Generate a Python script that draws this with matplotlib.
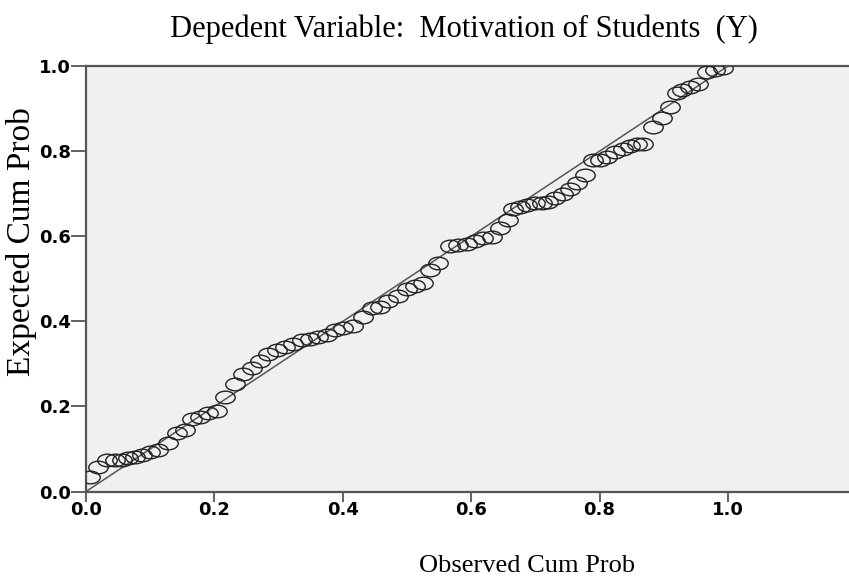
import matplotlib
matplotlib.use("Agg")
import matplotlib.pyplot as plt
from matplotlib.path import Path
from matplotlib.transforms import Affine2D

# observed vs expected cumulative probability
observed = [
    0.006, 0.019, 0.033, 0.045, 0.056, 0.065, 0.076, 0.087, 0.100, 0.112,
    0.128, 0.142, 0.154, 0.165, 0.178, 0.190, 0.204, 0.216, 0.232, 0.245,
    0.259, 0.271, 0.283, 0.297, 0.310, 0.322, 0.336, 0.349, 0.361, 0.375,
    0.388, 0.400, 0.416, 0.431, 0.445, 0.458, 0.470, 0.486, 0.500, 0.512,
    0.525, 0.536, 0.548, 0.567, 0.579, 0.593, 0.606, 0.618, 0.632, 0.645,
    0.657, 0.665, 0.676, 0.687, 0.700, 0.710, 0.720, 0.730, 0.743, 0.754,
    0.765, 0.777, 0.790, 0.800, 0.811, 0.824, 0.836, 0.847, 0.858, 0.868,
    0.883, 0.897, 0.910, 0.920, 0.928, 0.941, 0.953, 0.967, 0.980, 0.992,
]
expected = [
    0.034, 0.058, 0.074, 0.074, 0.075, 0.078, 0.081, 0.086, 0.092, 0.098,
    0.114, 0.137, 0.145, 0.170, 0.175, 0.185, 0.190, 0.222, 0.253, 0.276,
    0.291, 0.307, 0.323, 0.332, 0.339, 0.347, 0.355, 0.358, 0.363, 0.368,
    0.380, 0.384, 0.390, 0.410, 0.432, 0.434, 0.448, 0.460, 0.476, 0.484,
    0.490, 0.520, 0.537, 0.577, 0.579, 0.581, 0.589, 0.595, 0.598, 0.620,
    0.638, 0.664, 0.669, 0.673, 0.678, 0.678, 0.680, 0.690, 0.700, 0.710,
    0.725, 0.744, 0.778, 0.780, 0.787, 0.797, 0.804, 0.811, 0.816, 0.816,
    0.856, 0.877, 0.903, 0.936, 0.943, 0.950, 0.958, 0.985, 0.990, 0.995,
]
ref_line = [0.0, 1.0]
ticks = [0.0, 0.2, 0.4, 0.6, 0.8, 1.0]
tick_labels = ["0.0", "0.2", "0.4", "0.6", "0.8", "1.0"]

SERIF = ["Liberation Serif", "DejaVu Serif"]
EDGE = "#555555"

# wide, flat ellipse like the SPSS markers
ellipse = Path.unit_circle().transformed(Affine2D().scale(1.0, 0.65))

fig = plt.figure(figsize=(8.49, 5.79), dpi=100)
ax = fig.add_axes([0.1013, 0.1511, 0.8987, 0.7349])
ax.set_facecolor("#f0f0f0")

ax.plot(ref_line, ref_line, color="#555555", linewidth=1.1, zorder=2)
ax.plot(observed, expected, linestyle="none", marker=ellipse, markersize=14,
        markerfacecolor="none", markeredgecolor="#222222",
        markeredgewidth=1.0, zorder=3)

ax.set_xlim(0, 1.1885)
ax.set_ylim(0, 1.0)
ax.set_xticks(ticks)
ax.set_yticks(ticks)
ax.set_xticklabels(tick_labels)
ax.set_yticklabels(tick_labels)
for lab in ax.get_xticklabels() + ax.get_yticklabels():
    lab.set_fontfamily("DejaVu Sans")
    lab.set_fontweight("bold")
    lab.set_fontsize(13)
ax.tick_params(axis="x", length=7, width=1.3, color=EDGE, pad=0)
ax.tick_params(axis="y", length=11, width=1.3, color=EDGE, pad=0)

ax.spines["right"].set_visible(False)
for s in ("left", "top", "bottom"):
    ax.spines[s].set_color(EDGE)
    ax.spines[s].set_linewidth(1.6)

fig.text(464 / 849, 1 - 29 / 579, "Depedent Variable:  Motivation of Students  (Y)",
         ha="center", va="center", fontsize=22, family=SERIF)
fig.text(527 / 849, 1 - 566 / 579, "Observed Cum Prob",
         ha="center", va="center", fontsize=19, family=SERIF)
fig.text(22 / 849, 1 - 242 / 579, "Expected Cum Prob", rotation=90,
         ha="center", va="center", fontsize=24, family=SERIF)

fig.savefig("out.png", dpi=100)
